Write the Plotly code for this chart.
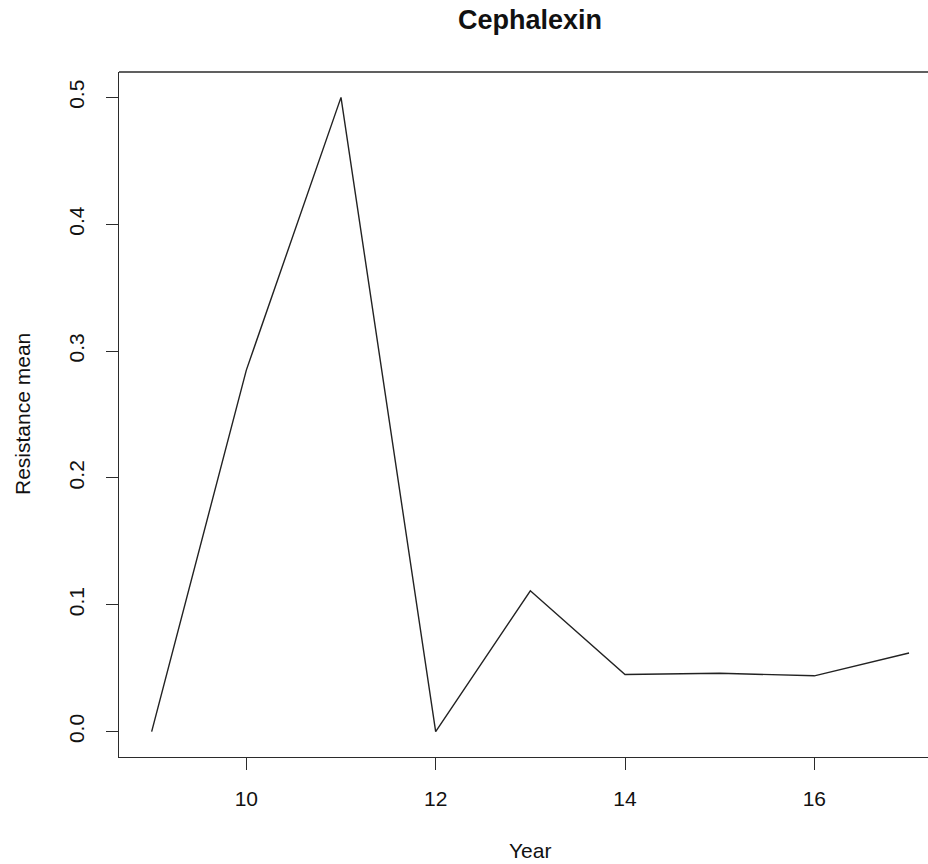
import plotly.graph_objects as go

years = [9, 10, 11, 12, 13, 14, 15, 16, 17]
resistance_mean = [0.0, 0.285, 0.5, 0.0, 0.111, 0.045, 0.046, 0.044, 0.062]
x_ticks = [10, 12, 14, 16]
y_ticks = [0.0, 0.1, 0.2, 0.3, 0.4, 0.5]

W, H = 928, 864
L, T, B, R = 119, 72, 107, 0
pw = W - L - R
ph = H - T - B

font = "Liberation Sans, Arial, Helvetica, sans-serif"
axcol = "#2b2b2b"

fig = go.Figure()
fig.add_trace(go.Scatter(x=years, y=resistance_mean, mode="lines",
                         line=dict(color="#222222", width=1.4),
                         showlegend=False, hoverinfo="skip"))

fig.update_layout(
    width=W, height=H,
    margin=dict(l=L, r=R, t=T, b=B, pad=0),
    paper_bgcolor="white", plot_bgcolor="white",
    font=dict(family=font, color="#111111"),
    title=dict(text="<b>Cephalexin</b>", x=530 / W, xanchor="center",
               y=1 - 20 / H, yanchor="middle", yref="container",
               font=dict(size=27, family=font, color="#111111")),
    xaxis=dict(range=[8.655, 8.655 + pw / 94.67], tickvals=x_ticks,
               ticktext=[str(v) for v in x_ticks],
               showgrid=False, zeroline=False, showline=True,
               linecolor=axcol, linewidth=1.4, ticks="outside",
               ticklen=12, tickwidth=1.4, tickcolor=axcol,
               tickfont=dict(size=21, family=font, color="#111111"),
               ticklabelstandoff=11),
    yaxis=dict(range=[-0.02, 0.52], tickvals=y_ticks,
               ticktext=[f"{v:.1f}" for v in y_ticks],
               showgrid=False, zeroline=False, showline=True,
               linecolor=axcol, linewidth=1.4, ticks="outside",
               ticklen=12, tickwidth=1.4, tickcolor=axcol,
               tickangle=-90,
               tickfont=dict(size=21, family=font, color="#111111"),
               ticklabelstandoff=13),
    shapes=[dict(type="line", xref="paper", yref="paper", x0=0, x1=1,
                 y0=1, y1=1, line=dict(color=axcol, width=1.4))],
    annotations=[
        dict(text="Year", xref="paper", yref="paper",
             x=(530 - L) / pw, y=-(850 - (T + ph)) / ph,
             xanchor="center", yanchor="middle", showarrow=False,
             font=dict(size=21, family=font, color="#111111")),
        dict(text="Resistance mean", xref="paper", yref="paper",
             x=(22 - L) / pw, y=(T + ph - 414) / ph,
             xanchor="center", yanchor="middle", showarrow=False,
             textangle=-90,
             font=dict(size=21, family=font, color="#111111")),
    ],
)

fig.write_html("out.html")
